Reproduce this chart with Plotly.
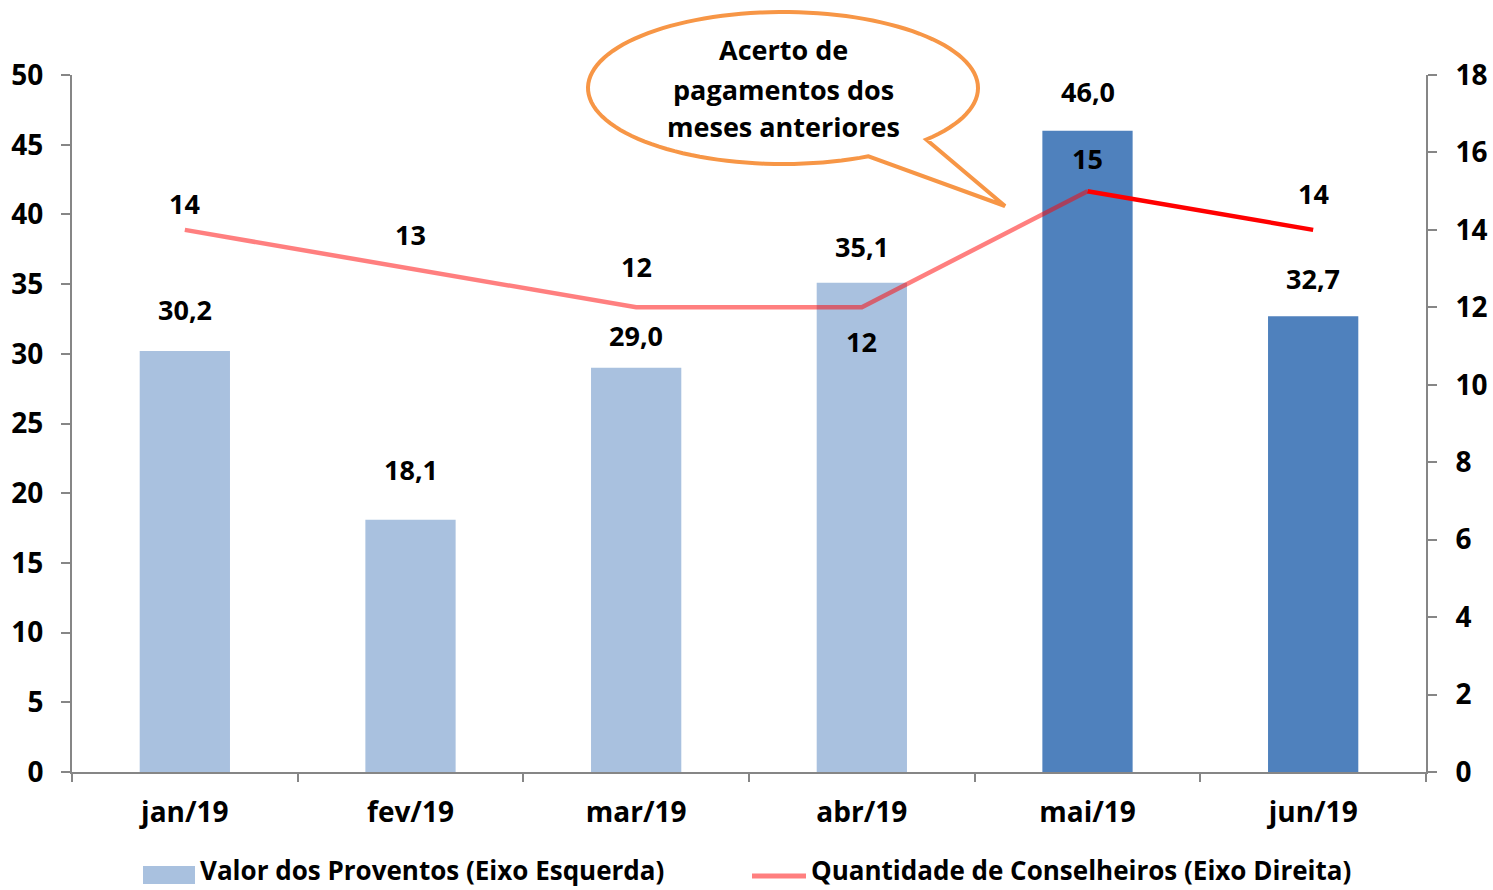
import numpy as np
import plotly.graph_objects as go

# ---- data ----
months = ["jan/19", "fev/19", "mar/19", "abr/19", "mai/19", "jun/19"]
proventos = [30.2, 18.1, 29.0, 35.1, 46.0, 32.7]
conselheiros = [14, 13, 12, 12, 15, 14]
proventos_labels = ["30,2", "18,1", "29,0", "35,1", "46,0", "32,7"]
callout_lines = ["Acerto de", "pagamentos dos", "meses anteriores"]
legend_names = ["Valor dos Proventos (Eixo Esquerda)", "Quantidade de Conselheiros (Eixo Direita)"]

# ---- styles ----
light_blue = "#A9C1DF"
dark_blue = "#4F81BD"
bar_colors = [light_blue] * 4 + [dark_blue] * 2
pink = "rgba(255,0,0,0.5)"
red = "#FF0000"
orange = "#F79646"
axis_gray = "#868686"
FONT = "Open Sans"
FS = 27
TFS = 28
LFS = 26
bar_label_shift = [42, 50, 32, 36, 39, 38]
line_label_shift = [26, 34, 41, -34, 33, 36]
callout_line_y = [50, 89, 127]

W, H = 1493, 890
L, R, T, B = 72, 1426, 75, 772  # plot area in screen pixels

fig = go.Figure()
fig.add_trace(go.Bar(
    x=months, y=proventos, marker=dict(color=bar_colors, line=dict(width=0)),
    name=legend_names[0], yaxis="y", showlegend=False,
))
fig.add_trace(go.Scatter(
    x=months[:5], y=conselheiros[:5], mode="lines", yaxis="y2",
    line=dict(color=pink, width=4.5), name=legend_names[1], showlegend=False,
))
fig.add_trace(go.Scatter(
    x=months[4:], y=conselheiros[4:], mode="lines", yaxis="y2",
    line=dict(color=red, width=4.5), name=legend_names[1], showlegend=False,
))

bold = dict(family=FONT, size=FS, color="black", weight="bold")
annotations = []
for m, v, lab, s in zip(months, proventos, proventos_labels, bar_label_shift):
    annotations.append(dict(x=m, y=v, xref="x", yref="y", text=lab, showarrow=False,
                            yshift=s, font=bold))
for m, v, s in zip(months, conselheiros, line_label_shift):
    annotations.append(dict(x=m, y=v, xref="x", yref="y2", text=str(v), showarrow=False,
                            yshift=s, font=bold))

def px2paper(px, py):
    return (px - L) / (R - L), (B - py) / (B - T)

# callout text
for line, py in zip(callout_lines, callout_line_y):
    cx, cy = px2paper(783, py)
    annotations.append(dict(x=cx, y=cy, xref="paper", yref="paper", showarrow=False,
                            xanchor="center", yanchor="middle", text=line, font=bold))

# callout bubble path (ellipse with pointer)
ecx, ecy, rx, ry = 783, 88, 195, 76
t = np.radians(np.linspace(64, 360 + 42.7, 120))
pts = [(ecx + rx * np.cos(a), ecy + ry * np.sin(a)) for a in t]
pts.append((1005, 206))
path = ""
for i, (px, py) in enumerate(pts):
    x, y = px2paper(px, py)
    path += ("M" if i == 0 else "L") + f"{x:.5f},{y:.5f} "
path += "Z"

shapes = [dict(type="path", path=path, xref="paper", yref="paper",
               line=dict(color=orange, width=4), fillcolor="white", layer="above")]

# manual legend
x0, y0 = px2paper(143, 866)
x1, y1 = px2paper(195, 884)
shapes.append(dict(type="rect", x0=x0, y0=y0, x1=x1, y1=y1, xref="paper", yref="paper",
                   line=dict(width=0), fillcolor=light_blue))
lx0, ly = px2paper(752, 876)
lx1, _ = px2paper(806, 876)
shapes.append(dict(type="line", x0=lx0, y0=ly, x1=lx1, y1=ly, xref="paper", yref="paper",
                   line=dict(color=pink, width=5)))
tx1, ty = px2paper(199, 870)
tx2, _ = px2paper(810, 870)
for tx, name in zip([tx1, tx2], legend_names):
    annotations.append(dict(x=tx, y=ty, xref="paper", yref="paper", text=name, showarrow=False,
                            xanchor="left", yanchor="middle", borderpad=0,
                            font=dict(family=FONT, size=LFS, color="black", weight="bold")))

axis_common = dict(showline=True, linecolor=axis_gray, linewidth=2, ticks="outside",
                   tickcolor=axis_gray, tickwidth=2, showgrid=False, zeroline=False,
                   tickfont=dict(family=FONT, size=TFS, color="black", weight="bold"))

fig.update_layout(
    width=W, height=H,
    margin=dict(l=L, r=W - R, t=T, b=H - B, autoexpand=False),
    plot_bgcolor="white", paper_bgcolor="white",
    bargap=0.6,
    font=dict(family=FONT, size=FS, color="black", weight="bold"),
    xaxis=dict(tickson="boundaries", ticklen=8, ticklabelstandoff=14, **axis_common),
    yaxis=dict(range=[0, 50], dtick=5, ticklen=9, ticklabelstandoff=12, **axis_common),
    yaxis2=dict(range=[0, 18], dtick=2, overlaying="y", side="right", ticklen=9,
                ticklabelstandoff=13, **axis_common),
    showlegend=False,
    annotations=annotations,
    shapes=shapes,
)
fig.write_html("out.html", config={"displayModeBar": False},
               post_script="document.body.style.margin='0';document.body.style.overflow='hidden';")
